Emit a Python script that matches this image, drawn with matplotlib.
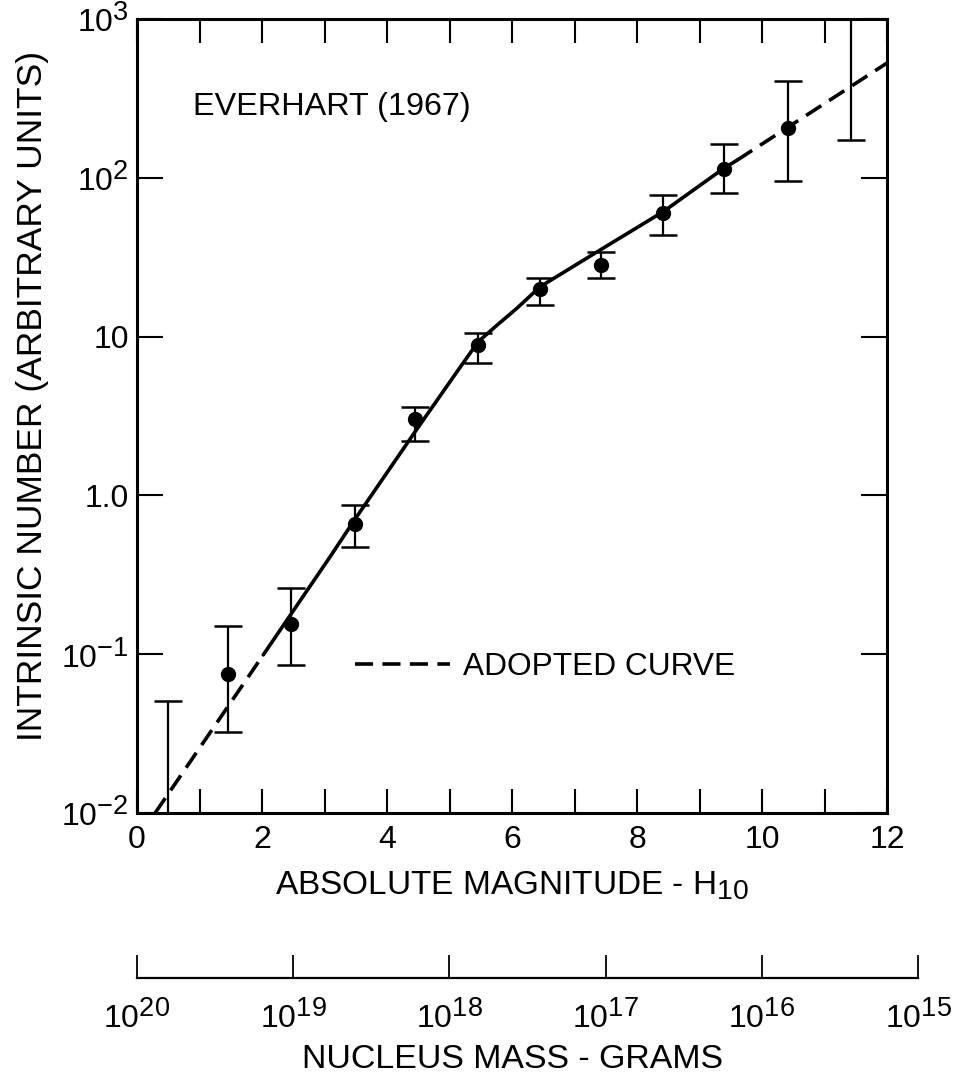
import matplotlib
matplotlib.use("Agg")
import matplotlib.pyplot as plt
import matplotlib._mathtext as mathtext_mod
from matplotlib.ticker import FixedLocator, FixedFormatter, NullLocator

plt.rcParams['font.family'] = ['Liberation Sans', 'DejaVu Sans']
plt.rcParams['mathtext.fontset'] = 'custom'
plt.rcParams['mathtext.rm'] = 'Liberation Sans'
# los exponentes del original son casi tan grandes como la base
mathtext_mod.SHRINK_FACTOR = 0.85

# --- datos ---
# puntos de Everhart con barras de error (H10, N, límite inferior, límite superior)
pts_h = [1.45, 2.47, 3.49, 4.45, 5.46, 6.45, 7.42, 8.42, 9.39, 10.42]
pts_n = [0.075, 0.156, 0.66, 3.03, 8.85, 19.9, 28.2, 59.7, 113.6, 207]
pts_lo = [0.0325, 0.0855, 0.475, 2.21, 6.85, 15.8, 23.3, 43.6, 80.6, 95.5]
pts_hi = [0.151, 0.26, 0.87, 3.59, 10.5, 23.5, 34.3, 78, 163, 407]

# barras sin punto (se salen del eje)
bar_h = [0.5, 11.42]
bar_n = [0.02, 400]
bar_lo = [0.005, 173]
bar_hi = [0.051, 2000]

# curva adoptada: tramo discontinuo bajo, tramo continuo, tramo discontinuo alto
low_h = [0.29, 2.02]
low_n = [0.01, 0.099]
mid_h = [2.02, 3.09, 3.49, 4.45, 5.12, 5.46, 5.76, 6.08, 6.45, 7.41, 8.42, 9.39, 9.6]
mid_n = [0.099, 0.411, 0.71, 2.52, 6.01, 9.29, 11.8, 15.1, 20.6, 35.1, 61.2, 114.8, 129]
high_h = [9.6, 12.0]
high_n = [129, 528]

y_ticks = [1e-2, 1e-1, 1, 10, 1e2, 1e3]
y_labels = [r'$\mathregular{10^{-2}}$', r'$\mathregular{10^{-1}}$', '1.0', '10',
            r'$\mathregular{10^{2}}$', r'$\mathregular{10^{3}}$']
mass_ticks = [1e20, 1e19, 1e18, 1e17, 1e16, 1e15]
mass_labels = [r'$\mathregular{10^{%d}}$' % e for e in (20, 19, 18, 17, 16, 15)]

W, H = 966, 1074
fig = plt.figure(figsize=(W / 100, H / 100), dpi=100)
ax = fig.add_axes([137 / W, 1 - 813 / H, 750 / W, 794 / H])

lw = 2.6
ax.plot(low_h, low_n, color='black', lw=lw, dashes=(5, 2.6), label='ADOPTED CURVE')
ax.plot(mid_h, mid_n, color='black', lw=lw, solid_capstyle='round')
ax.plot(high_h, high_n, color='black', lw=lw, dashes=(5, 2.6))

err = [[n - lo for n, lo in zip(pts_n, pts_lo)], [hi - n for n, hi in zip(pts_n, pts_hi)]]
ax.errorbar(pts_h, pts_n, yerr=err, fmt='o', color='black', ms=10,
            elinewidth=1.6, capsize=10, capthick=1.8)
err2 = [[n - lo for n, lo in zip(bar_n, bar_lo)], [hi - n for n, hi in zip(bar_n, bar_hi)]]
ax.errorbar(bar_h, bar_n, yerr=err2, fmt='none', ecolor='black',
            elinewidth=1.6, capsize=10, capthick=1.8)

ax.set_yscale('log')
ax.set_xlim(0, 12)
ax.set_ylim(1e-2, 1e3)
ax.yaxis.set_major_locator(FixedLocator(y_ticks))
ax.yaxis.set_major_formatter(FixedFormatter(y_labels))
ax.yaxis.set_minor_locator(NullLocator())
ax.set_xticks(range(0, 13, 2))
ax.set_xticks(range(1, 12, 2), minor=True)

for s in ax.spines.values():
    s.set_linewidth(2.2)
ax.tick_params(axis='both', which='both', direction='in', top=True, right=True,
               width=1.5, labelsize=23)
ax.tick_params(axis='x', which='both', length=17, pad=9)
ax.tick_params(axis='y', which='both', length=19, pad=6)

ax.text(0.075, 0.889, 'EVERHART (1967)', transform=ax.transAxes,
        fontsize=23.3, va='center', ha='left')
ax.legend(loc='center left', bbox_to_anchor=(0.291, 0.184), frameon=False,
          fontsize=22.8, handlelength=3.0, handletextpad=0.4,
          borderpad=0, borderaxespad=0)

fig.text(33 / W, 1 - 396 / H, 'INTRINSIC NUMBER (ARBITRARY UNITS)', rotation=90,
         ha='center', va='center', fontsize=25.5)
fig.text(512 / W, 1 - 895 / H, r'ABSOLUTE MAGNITUDE - H$\mathregular{_{10}}$',
         ha='center', va='baseline', fontsize=24)

# eje inferior de masa del núcleo
ax2 = fig.add_axes([137 / W, 1 - 978 / H, 781 / W, 0.0001])
ax2.patch.set_visible(False)
for k in ('top', 'left', 'right'):
    ax2.spines[k].set_visible(False)
ax2.spines['bottom'].set_linewidth(1.6)
ax2.set_xscale('log')
ax2.set_xlim(1e20, 1e15)
ax2.xaxis.set_major_locator(FixedLocator(mass_ticks))
ax2.xaxis.set_major_formatter(FixedFormatter(mass_labels))
ax2.xaxis.set_minor_locator(NullLocator())
ax2.set_yticks([])
ax2.tick_params(axis='x', direction='in', length=16.5, width=1.3, labelsize=23, pad=16)
fig.text(512 / W, 1 - 1068 / H, 'NUCLEUS MASS - GRAMS', ha='center', va='baseline',
         fontsize=24.4)

fig.savefig('out.png', dpi=100)
